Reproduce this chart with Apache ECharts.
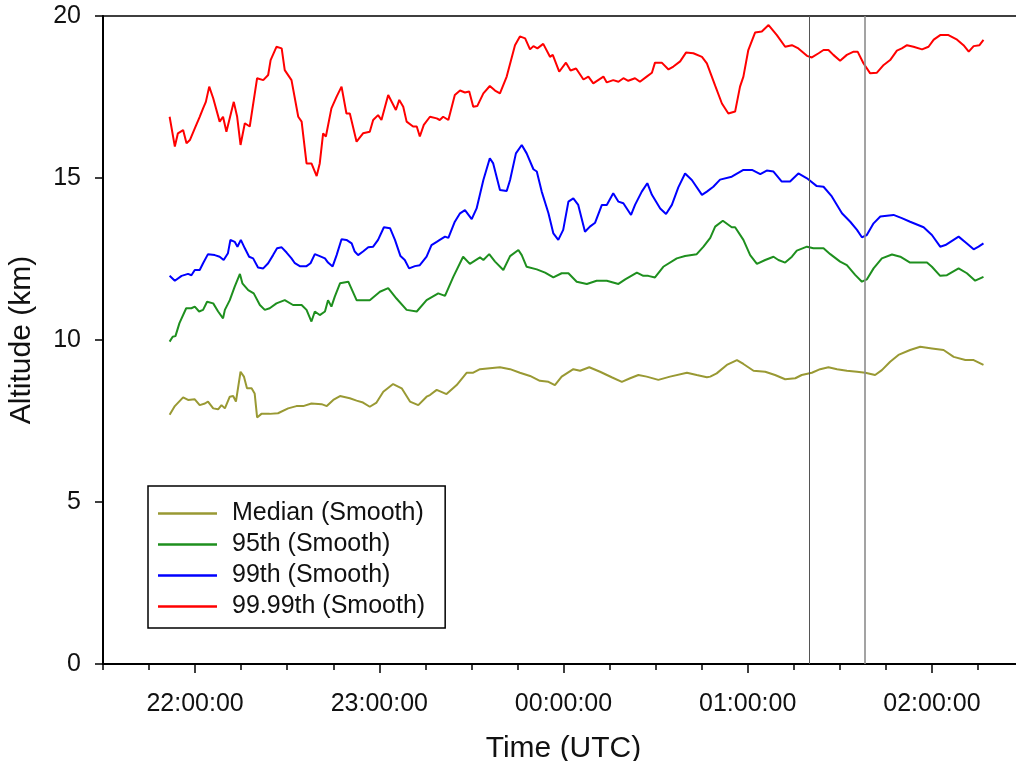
<!DOCTYPE html>
<html>
<head>
<meta charset="utf-8">
<script src="https://cdn.jsdelivr.net/npm/echarts@6/dist/echarts.min.js"></script>
<style>
  html, body { margin: 0; padding: 0; background: #fff; }
  #chart { width: 1016px; height: 761px; }
</style>
</head>
<body>
<div id="chart"></div>
<script>
// Time is stored as minutes after 21:30 UTC; altitude in km.
const START_CLOCK = 21 * 60 + 30;
const hourTicks = [30, 90, 150, 210, 270];
const markerTimes = [230, 248];
const seriesNames = ['Median (Smooth)', '95th (Smooth)', '99th (Smooth)', '99.99th (Smooth)'];
const seriesColors = ['#999933', '#1e8f1e', '#0000ff', '#ff0000'];

const median = [
  [21.7,7.69],[23.4,7.96],[26.1,8.23],[27.7,8.15],[29.9,8.17],[31.5,7.99],[33.2,8.04],[34.2,8.1],
  [35.9,7.89],[37.5,7.86],[38.6,7.99],[39.7,7.89],[41.3,8.25],[42.4,8.27],[43.3,8.1],[44.8,9.02],
  [45.9,8.87],[46.9,8.51],[48.4,8.51],[49.4,8.35],[50.2,7.61],[51.6,7.72],[54.3,7.72],[57.0,7.74],
  [60.3,7.89],[63.0,7.96],[65.2,7.96],[67.9,8.04],[71.2,8.02],[72.9,7.96],[75.0,8.15],[77.2,8.27],
  [80.4,8.2],[82.6,8.13],[84.7,8.07],[86.9,7.94],[89.1,8.07],[91.3,8.4],[94.5,8.64],[97.3,8.51],
  [100.0,8.1],[102.7,7.99],[105.4,8.25],[106.5,8.3],[108.7,8.46],[111.9,8.33],[115.2,8.61],[118.5,8.99],
  [120.6,8.99],[122.8,9.1],[126.0,9.13],[129.3,9.16],[132.6,9.1],[135.8,8.99],[139.1,8.89],[142.3,8.74],
  [145.1,8.71],[147.2,8.61],[149.4,8.87],[153.2,9.1],[155.4,9.05],[158.4,9.16],[161.9,9.02],[165.7,8.85],
  [169.0,8.71],[171.7,8.82],[174.4,8.92],[177.1,8.87],[180.9,8.77],[184.7,8.87],[190.2,8.99],[193.4,8.92],
  [196.7,8.85],[197.8,8.87],[199.9,8.97],[203.2,9.23],[206.5,9.38],[208.6,9.26],[211.9,9.05],[215.7,9.02],
  [218.9,8.92],[222.2,8.79],[225.5,8.82],[227.6,8.92],[230.9,8.99],[233.6,9.1],[236.3,9.16],[239.1,9.1],
  [242.3,9.05],[245.6,9.02],[248.3,8.99],[251.5,8.92],[253.7,9.07],[256.4,9.33],[259.1,9.54],[262.9,9.69],
  [266.2,9.79],[270.0,9.74],[273.8,9.69],[277.1,9.48],[280.9,9.38],[283.6,9.38],[286.8,9.23]
];

const p95 = [
  [21.7,9.95],[22.7,10.1],[23.6,10.12],[24.9,10.52],[27.1,10.98],[28.8,10.98],[29.9,11.03],[31.3,10.88],
  [32.6,10.93],[33.9,11.18],[35.9,11.13],[37.5,10.88],[39.1,10.67],[39.7,10.93],[41.3,11.23],[42.9,11.65],
  [44.6,12.04],[45.4,11.75],[47.3,11.54],[49.1,11.44],[51.1,11.08],[52.7,10.93],[54.3,10.98],[56.5,11.13],
  [59.2,11.23],[61.9,11.08],[64.7,11.08],[66.3,10.93],[67.9,10.57],[69.0,10.88],[70.6,10.77],[72.3,10.88],
  [73.3,11.23],[74.4,11.03],[75.5,11.34],[77.2,11.75],[79.9,11.8],[82.6,11.23],[84.7,11.23],[86.9,11.23],
  [90.2,11.49],[92.9,11.6],[95.6,11.28],[98.9,10.93],[102.2,10.88],[105.4,11.23],[109.2,11.44],[111.4,11.36],
  [114.1,11.95],[117.3,12.57],[119.5,12.35],[122.8,12.55],[123.9,12.47],[125.8,12.65],[127.7,12.42],[130.4,12.16],
  [132.6,12.59],[135.3,12.78],[136.4,12.62],[138.0,12.26],[141.3,12.18],[144.0,12.08],[146.7,11.93],[149.4,12.06],
  [151.6,12.06],[154.3,11.8],[157.6,11.73],[160.8,11.83],[164.1,11.83],[167.9,11.73],[170.1,11.87],[173.9,12.08],
  [176.0,11.98],[177.6,11.98],[179.8,11.93],[182.5,12.26],[186.9,12.52],[189.6,12.59],[193.4,12.65],[195.6,12.88],
  [197.8,13.15],[199.4,13.5],[201.9,13.68],[204.8,13.48],[205.9,13.48],[208.6,13.09],[210.8,12.62],[213.0,12.35],
  [215.7,12.47],[218.4,12.57],[220.0,12.47],[222.2,12.39],[224.4,12.57],[226.0,12.76],[229.3,12.88],[231.4,12.83],
  [234.7,12.83],[236.9,12.65],[240.1,12.42],[242.3,12.31],[245.0,12.01],[247.2,11.8],[248.8,11.87],[251.0,12.21],
  [253.7,12.52],[257.0,12.64],[259.7,12.57],[262.9,12.39],[265.7,12.39],[268.4,12.39],[270.0,12.26],[272.7,11.98],
  [274.9,12.0],[278.7,12.21],[281.4,12.06],[284.1,11.83],[286.8,11.95]
];

const p99 = [
  [21.7,11.98],[23.4,11.83],[25.6,11.98],[27.7,12.04],[28.8,12.0],[29.9,12.16],[31.5,12.16],[32.6,12.37],
  [34.2,12.65],[36.4,12.62],[38.0,12.57],[39.3,12.47],[40.7,12.68],[41.5,13.09],[42.9,13.03],[43.8,12.88],
  [44.9,13.09],[46.2,12.83],[47.6,12.57],[48.9,12.52],[50.5,12.24],[52.2,12.21],[53.8,12.37],[55.4,12.62],
  [56.7,12.83],[58.2,12.86],[59.8,12.7],[61.4,12.52],[62.5,12.37],[64.1,12.28],[66.3,12.28],[67.6,12.37],
  [69.0,12.65],[70.6,12.59],[72.3,12.52],[73.3,12.39],[74.8,12.27],[76.1,12.62],[77.7,13.11],[79.3,13.09],
  [81.0,12.98],[82.0,12.73],[83.1,12.62],[84.7,12.73],[86.4,12.86],[88.0,12.88],[89.6,13.09],[91.5,13.48],
  [93.5,13.45],[95.1,13.09],[96.9,12.59],[98.3,12.47],[99.7,12.21],[101.6,12.28],[103.2,12.31],[105.4,12.57],
  [107.0,12.93],[108.7,13.03],[109.7,13.09],[111.4,13.19],[112.5,13.15],[114.6,13.65],[116.3,13.91],[117.9,14.01],
  [120.1,13.73],[121.7,14.06],[123.9,14.94],[126.0,15.61],[127.1,15.45],[129.3,14.63],[131.5,14.6],[132.6,14.94],
  [134.5,15.76],[136.4,16.02],[138.0,15.76],[140.2,15.27],[141.3,15.2],[142.9,14.58],[145.1,13.91],[146.7,13.29],
  [148.3,13.09],[149.9,13.4],[151.6,14.27],[153.2,14.37],[154.8,14.17],[157.0,13.34],[158.6,13.5],[160.3,13.62],
  [162.5,14.17],[164.1,14.17],[166.2,14.53],[167.9,14.27],[169.5,14.22],[172.0,13.86],[173.3,14.17],[175.5,14.58],
  [177.3,14.84],[178.8,14.48],[181.5,14.06],[183.4,13.89],[185.3,14.17],[187.4,14.71],[189.6,15.14],[191.8,14.94],
  [195.1,14.48],[196.7,14.58],[198.8,14.73],[201.0,14.95],[204.8,15.04],[208.6,15.25],[211.4,15.25],[214.1,15.12],
  [216.2,15.23],[218.4,15.2],[221.1,14.89],[223.8,14.89],[226.5,15.14],[229.3,14.99],[232.5,14.75],[234.7,14.73],
  [237.4,14.43],[240.7,13.91],[243.4,13.65],[245.6,13.4],[247.2,13.17],[248.8,13.24],[251.0,13.6],[253.2,13.81],
  [257.5,13.86],[260.2,13.76],[262.9,13.65],[267.3,13.48],[270.0,13.24],[272.7,12.88],[274.4,12.93],[278.7,13.19],
  [281.4,12.98],[283.6,12.8],[285.2,12.88],[286.8,12.98]
];

const p9999 = [
  [21.7,16.89],[23.4,15.97],[24.4,16.38],[26.1,16.48],[27.2,16.07],[28.3,16.17],[29.9,16.53],[31.5,16.89],
  [32.6,17.15],[33.5,17.35],[34.6,17.82],[35.9,17.46],[38.0,16.74],[39.1,16.89],[40.2,16.43],[42.6,17.35],
  [43.7,16.89],[44.8,16.02],[46.2,16.69],[47.8,16.59],[50.2,18.08],[52.2,18.02],[53.8,18.18],[54.6,18.64],
  [56.5,19.05],[58.2,19.0],[59.2,18.33],[61.4,18.02],[63.6,16.89],[64.7,16.74],[66.3,15.45],[67.9,15.45],
  [69.6,15.06],[70.6,15.45],[71.7,16.38],[72.6,16.28],[74.4,17.15],[76.1,17.51],[77.7,17.82],[79.3,16.99],
  [80.4,16.99],[82.6,16.12],[84.7,16.38],[86.9,16.43],[88.0,16.79],[89.6,16.94],[90.7,16.79],[92.9,17.56],
  [95.4,17.1],[96.5,17.41],[97.8,17.2],[98.9,16.74],[101.0,16.59],[102.2,16.59],[103.2,16.28],[104.5,16.64],
  [106.5,16.89],[108.7,16.84],[109.7,16.79],[110.8,16.89],[112.5,16.79],[114.6,17.56],[116.3,17.7],[117.9,17.64],
  [119.3,17.67],[120.6,17.2],[121.9,17.22],[123.9,17.61],[126.0,17.84],[127.7,17.7],[129.3,17.61],[131.5,18.13],
  [134.2,19.1],[135.8,19.37],[137.5,19.31],[139.1,18.97],[140.2,19.07],[141.5,19.0],[143.4,19.14],[145.6,18.74],
  [146.5,18.8],[148.6,18.28],[150.8,18.56],[152.3,18.32],[154.1,18.38],[156.5,18.04],[158.1,18.13],[159.7,17.92],
  [163.0,18.13],[164.1,17.95],[166.2,18.02],[167.9,17.97],[169.5,18.08],[171.1,18.0],[173.3,18.08],[174.9,17.97],
  [177.1,18.13],[178.8,18.25],[179.8,18.56],[182.0,18.56],[184.2,18.35],[185.8,18.44],[188.0,18.6],[189.9,18.87],
  [192.3,18.85],[195.1,18.74],[196.7,18.54],[199.4,17.85],[201.6,17.3],[203.7,16.99],[205.9,17.05],[207.5,17.82],
  [208.6,18.13],[210.2,18.95],[212.4,19.49],[214.6,19.52],[216.8,19.72],[219.5,19.41],[222.2,19.05],[224.4,19.1],
  [226.5,19.0],[229.3,18.77],[230.9,18.72],[233.1,18.85],[234.7,18.95],[236.3,18.95],[237.9,18.8],[240.1,18.62],
  [242.3,18.8],[244.5,18.9],[245.8,18.9],[247.7,18.54],[249.9,18.23],[252.1,18.25],[254.3,18.49],[256.4,18.64],
  [258.6,18.93],[260.2,19.0],[261.9,19.1],[264.0,19.05],[266.8,18.97],[268.9,19.05],[270.6,19.27],[272.7,19.41],
  [275.4,19.41],[278.2,19.27],[280.3,19.1],[282.0,18.9],[283.6,19.07],[285.5,19.1],[286.8,19.26]
];

const FONT = "'Liberation Sans', Arial, sans-serif";
const pad2 = n => (n < 10 ? '0' : '') + n;
function clockLabel(v) {
  const t = (START_CLOCK + Math.round(v)) % 1440;
  return pad2(Math.floor(t / 60)) + ':' + pad2(t % 60) + ':00';
}

const lineSeries = [median, p95, p99, p9999].map((d, i) => ({
  name: seriesNames[i],
  type: 'line',
  data: d,
  symbol: 'none',
  showSymbol: false,
  color: seriesColors[i],
  lineStyle: { width: 2, color: seriesColors[i] },
  z: 3
}));

// Two thin vertical reference lines
lineSeries.push({
  name: 'markers',
  type: 'line',
  data: [],
  silent: true,
  markLine: {
    silent: true,
    symbol: ['none', 'none'],
    label: { show: false },
    animation: false,
    data: [
      { xAxis: markerTimes[0], lineStyle: { color: '#555', width: 1, type: 'solid' } },
      { xAxis: markerTimes[1], lineStyle: { color: '#8c8c8c', width: 1.6, type: 'solid' } }
    ]
  }
});

const axisBase = { type: 'value', min: 0, max: 300, splitLine: { show: false } };

const chart = echarts.init(document.getElementById('chart'), null, { renderer: 'canvas' });
chart.setOption({
  animation: false,
  backgroundColor: '#fff',
  textStyle: { fontFamily: FONT },
  grid: {
    left: 103, top: 16, bottom: 97, right: -8,
    outerBoundsMode: 'none',
    containLabel: false,
    show: false
  },
  legend: {
    data: seriesNames,
    orient: 'vertical',
    left: 148, top: 486,
    icon: 'rect',
    itemWidth: 59, itemHeight: 2.5, itemGap: 0,
    padding: [12, 20, 6, 10],
    borderColor: '#000', borderWidth: 1.5, borderRadius: 0,
    backgroundColor: '#fff',
    selectedMode: false,
    textStyle: { fontSize: 25, lineHeight: 31, color: '#111', fontFamily: FONT, padding: [0, 0, 0, 10] }
  },
  xAxis: [
    Object.assign({}, axisBase, {
      interval: 15, position: 'bottom',
      name: 'Time (UTC)', nameLocation: 'middle', nameGap: 70,
      nameTextStyle: { fontSize: 30, color: '#111', fontFamily: FONT },
      axisLine: { show: true, onZero: false, lineStyle: { color: '#000', width: 2 } },
      axisTick: { show: true, length: 6, lineStyle: { color: '#000', width: 1.5 } },
      axisLabel: {
        fontSize: 25, color: '#111', fontFamily: FONT, margin: 28,
        formatter: v => (hourTicks.indexOf(Math.round(v)) >= 0 ? clockLabel(v) : '')
      }
    }),
    // longer ticks on the hours
    Object.assign({}, axisBase, {
      position: 'bottom',
      axisLine: { show: false },
      axisTick: { show: true, length: 9, customValues: hourTicks, lineStyle: { color: '#000', width: 1.5 } },
      axisLabel: { show: false, customValues: hourTicks }
    }),
    // frame line along the top of the plot
    Object.assign({}, axisBase, {
      position: 'top',
      axisLine: { show: true, onZero: false, lineStyle: { color: '#000', width: 1.5 } },
      axisTick: { show: false },
      axisLabel: { show: false }
    })
  ],
  yAxis: {
    type: 'value', min: 0, max: 20, interval: 5,
    name: 'Altitude (km)', nameLocation: 'middle', nameGap: 66,
    nameTextStyle: { fontSize: 30, color: '#111', fontFamily: FONT },
    axisLine: { show: true, onZero: false, lineStyle: { color: '#000', width: 2 } },
    axisTick: { show: true, length: 8, lineStyle: { color: '#000', width: 1.5 } },
    axisLabel: { fontSize: 25, color: '#111', fontFamily: FONT, margin: 22 },
    splitLine: { show: false }
  },
  series: lineSeries
});
</script>
</body>
</html>
